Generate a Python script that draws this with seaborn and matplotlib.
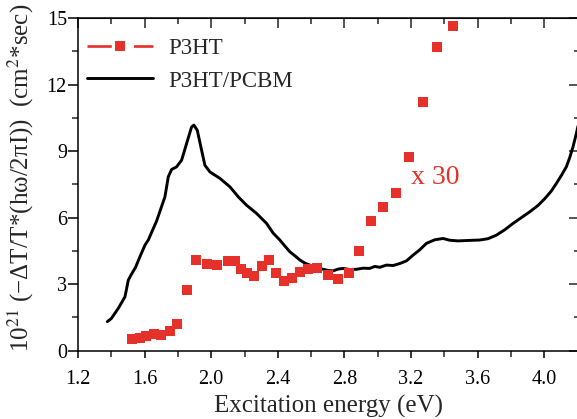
import numpy as np
import pandas as pd
import matplotlib
matplotlib.use("Agg")
import matplotlib.pyplot as plt
from matplotlib.lines import Line2D
from matplotlib.ticker import MultipleLocator, FixedLocator
import seaborn as sns

# ---- data ----
p3ht_energy = [1.525, 1.570, 1.610, 1.654, 1.700, 1.750, 1.797, 1.855, 1.910, 1.972,
               2.034, 2.100, 2.144, 2.180, 2.217, 2.257, 2.302, 2.346, 2.388, 2.436,
               2.482, 2.532, 2.582, 2.636, 2.702, 2.760, 2.825, 2.890, 2.958, 3.032,
               3.108, 3.188, 3.272, 3.358, 3.451]
p3ht_signal = [0.52, 0.58, 0.66, 0.77, 0.70, 0.88, 1.21, 2.73, 4.10, 3.92,
               3.88, 4.05, 4.05, 3.70, 3.52, 3.38, 3.80, 4.10, 3.52, 3.16,
               3.28, 3.53, 3.67, 3.71, 3.41, 3.24, 3.51, 4.48, 5.84, 6.46,
               7.13, 8.74, 11.22, 13.67, 14.64]

blend_energy = [1.376, 1.400, 1.442, 1.482, 1.502, 1.518, 1.545, 1.572, 1.602, 1.622,
                1.672, 1.722, 1.742, 1.762, 1.792, 1.822, 1.852, 1.882, 1.896, 1.916,
                1.942, 1.962, 1.992, 2.052, 2.112, 2.162, 2.212, 2.272, 2.332, 2.372,
                2.412, 2.442, 2.472, 2.502, 2.532, 2.562, 2.592, 2.632, 2.672, 2.702,
                2.732, 2.762, 2.792, 2.832, 2.872, 2.912, 2.952, 2.982, 3.012, 3.052,
                3.092, 3.132, 3.172, 3.212, 3.252, 3.292, 3.342, 3.392, 3.432, 3.482,
                3.540, 3.612, 3.662, 3.712, 3.762, 3.812, 3.862, 3.912, 3.962, 4.002,
                4.042, 4.072, 4.102, 4.132, 4.152, 4.172, 4.192, 4.210]
blend_signal = [1.31, 1.45, 1.91, 2.43, 3.18, 3.41, 3.75, 4.24, 4.76, 4.99,
                5.85, 6.94, 7.84, 8.17, 8.29, 8.59, 9.34, 10.09, 10.17, 9.94,
                9.04, 8.36, 8.06, 7.77, 7.39, 6.94, 6.56, 6.19, 5.74, 5.30,
                4.99, 4.72, 4.46, 4.28, 4.09, 3.95, 3.86, 3.75, 3.67, 3.62,
                3.60, 3.68, 3.71, 3.66, 3.67, 3.72, 3.71, 3.80, 3.76, 3.86,
                3.84, 3.93, 4.05, 4.31, 4.55, 4.84, 5.00, 5.06, 4.98, 4.95,
                4.97, 4.99, 5.05, 5.21, 5.45, 5.74, 6.00, 6.26, 6.55, 6.85,
                7.20, 7.54, 7.90, 8.29, 8.70, 9.19, 9.79, 10.40]

series_labels = ["P3HT", "P3HT/PCBM"]
x_tick_values = [1.2, 1.6, 2.0, 2.4, 2.8, 3.2, 3.6, 4.0]
x_tick_labels = ["1.2", "1.6", "2.0", "2.4", "2.8", "3.2", "3.6", "4.0"]
y_tick_values = [0, 3, 6, 9, 12, 15]
y_tick_labels = ["0", "3", "6", "9", "12", "15"]
scale_note = "x 30"

RED = "#e5312a"

sns.set_style("ticks")
plt.rcParams["font.family"] = ["Liberation Serif", "DejaVu Serif"]
plt.rcParams["mathtext.fontset"] = "stix"

df_p3ht = pd.DataFrame({"E": p3ht_energy, "S": p3ht_signal})
df_blend = pd.DataFrame({"E": blend_energy, "S": blend_signal})

fig = plt.figure(figsize=(5.77, 4.19), dpi=100)
W, H = 577, 419
ax = fig.add_axes([78 / W, (H - 350.7) / H, (578.5 - 78) / W, (350.7 - 18) / H])

sns.lineplot(data=df_blend, x="E", y="S", ax=ax, color="black", lw=2.1,
             sort=False, estimator=None, zorder=2)
sns.scatterplot(data=df_p3ht, x="E", y="S", ax=ax, color=RED, marker="s",
                s=48, linewidth=0, zorder=3)

ax.set_xlim(1.2, 4.205)
ax.set_ylim(0, 15)

ax.xaxis.set_major_locator(FixedLocator(x_tick_values))
ax.set_xticklabels(x_tick_labels)
ax.xaxis.set_minor_locator(MultipleLocator(0.2))
ax.yaxis.set_major_locator(FixedLocator(y_tick_values))
ax.set_yticklabels(y_tick_labels)
ax.yaxis.set_minor_locator(MultipleLocator(1.5))

ax.tick_params(axis="x", which="major", direction="out", length=5, width=1.1,
               labelsize=14.5, pad=9, colors="black")
ax.tick_params(axis="x", which="minor", direction="out", length=4, width=1.1)
ax.tick_params(axis="y", which="major", direction="out", length=7, width=1.1,
               labelsize=14.5, pad=1, colors="black")
ax.tick_params(axis="y", which="minor", direction="out", length=4.5, width=1.1)

for sp in ax.spines.values():
    sp.set_linewidth(1.1)
    sp.set_color("black")

# mirrored inward ticks on top and right
top = ax.secondary_xaxis("top")
top.xaxis.set_major_locator(FixedLocator(x_tick_values))
top.xaxis.set_minor_locator(MultipleLocator(0.2))
top.tick_params(which="major", direction="in", length=7, width=1.1, labeltop=False)
top.tick_params(which="minor", direction="in", length=4.5, width=1.1)
right = ax.secondary_yaxis("right")
right.yaxis.set_major_locator(FixedLocator(y_tick_values))
right.yaxis.set_minor_locator(MultipleLocator(1.5))
right.tick_params(which="major", direction="in", length=7, width=1.1, labelright=False)
right.tick_params(which="minor", direction="in", length=3.5, width=1.1)

ax.set_xlabel("Excitation energy (eV)", fontsize=18, labelpad=4)
ax.set_ylabel("10$^{21}$ (\u2212\u0394T/T*(h\u03c9/2\u03c0I))  (cm$^{2}$*sec)", fontsize=18)
ax.yaxis.set_label_coords(-0.083, 0.52)

ax.text(3.2, 7.8, scale_note, color=RED, fontsize=20, ha="left", va="center")

handles = [
    Line2D([0], [0], color=RED, lw=1.9, dashes=(9.2, 8.4), marker="s",
           markersize=7, markeredgewidth=0, markerfacecolor=RED),
    Line2D([0], [0], color="black", lw=2.1),
]
leg = ax.legend(handles, series_labels, loc="upper left", bbox_to_anchor=(0.018, 0.94),
                frameon=False, fontsize=16.5, handlelength=2.9, handletextpad=0.65,
                labelspacing=0.5, borderpad=0, borderaxespad=0)

fig.savefig("out.png", dpi=100)
